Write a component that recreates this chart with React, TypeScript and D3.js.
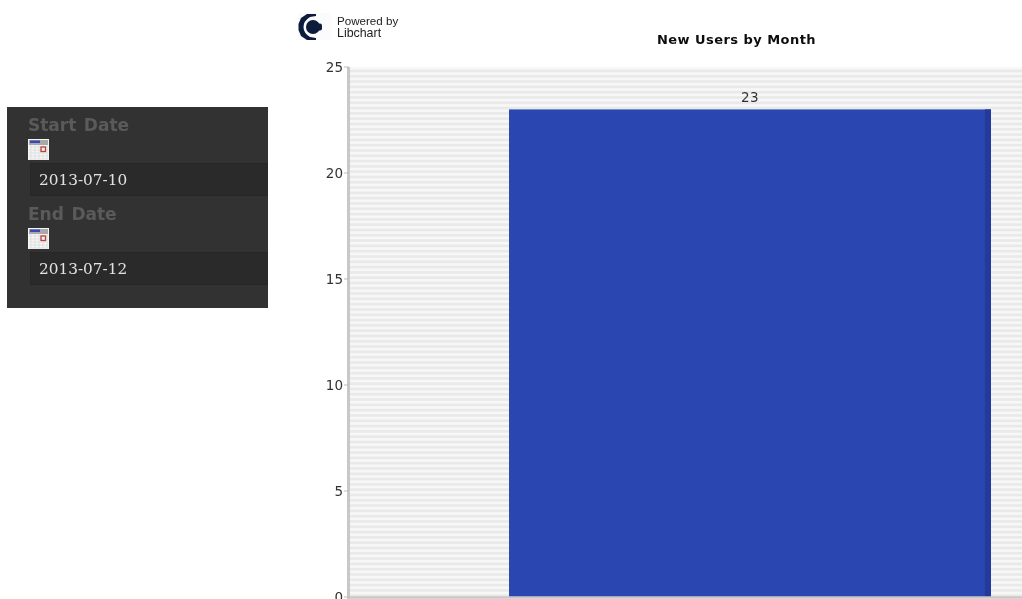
import React from "react";
import * as d3 from "d3";

const chartTitle = "New Users by Month";
const categories = ["2013-07"];
const newUsers = [23];
const yTicks = [0, 5, 10, 15, 20, 25];
const stripeValues = d3.range(0, 25, 0.25);
const dateFields = [
  { label: "Start Date", value: "2013-07-10" },
  { label: "End Date", value: "2013-07-12" },
];

const y = d3.scaleLinear().domain([0, 25]).range([597, 67]);
const x = d3.scaleBand().domain(categories).range([349, 1151]).paddingInner(0).paddingOuter(0.332);

function CalendarIcon({ px, py }: { px: number; py: number }) {
  const cells = d3.range(0, 5);
  return (
    <g transform={`translate(${px},${py})`}>
      <rect x={0} y={0} width={21} height={21} fill="#f6f6f6" />
      <rect x={1} y={1} width={19} height={5} fill="#a9a9a9" />
      <rect x={2} y={1.5} width={10} height={2.5} fill="#3b48b5" />
      {cells.map((i) => (
        <line key={"v" + i} x1={3 + i * 4} x2={3 + i * 4} y1={6} y2={20} stroke="#dcdcdc" strokeWidth={0.8} />
      ))}
      {cells.map((i) => (
        <line key={"h" + i} x1={1} x2={20} y1={8 + i * 3} y2={8 + i * 3} stroke="#dcdcdc" strokeWidth={0.8} />
      ))}
      <rect x={13} y={8} width={4.5} height={4.5} fill="#eee" stroke="#b8403f" strokeWidth={1.3} />
    </g>
  );
}

export default function App() {
  const barX = x(categories[0])!;
  const barW = x.bandwidth();
  return (
    <svg width={1022} height={599} style={{ position: "absolute", left: 0, top: 0, background: "#fff" }} fontFamily="'DejaVu Sans', sans-serif">
      <defs>
        <filter id="soft" x="-5%" y="-5%" width="110%" height="110%">
          <feGaussianBlur stdDeviation="0.35" />
        </filter>
        <clipPath id="panel"><rect x={7} y={107} width={261} height={201} /></clipPath>
      </defs>

      {/* date panel */}
      <g filter="url(#soft)">
        <g clipPath="url(#panel)">
          <rect x={7} y={107} width={261} height={201} fill="#333333" />
          {dateFields.map((f, i) => {
            const top = 107 + i * 89;
            return (
              <g key={f.label}>
                <text x={28} y={top + 23.5} fontSize={17} fontWeight={700} fill="#5a5a5a" wordSpacing={1.6}>
                  {f.label}
                </text>
                <CalendarIcon px={28} py={top + 32} />
                <rect x={30} y={top + 56} width={250} height={33} fill="#2a2a2a" />
                <rect x={30.5} y={top + 56.5} width={250} height={32} fill="none" stroke="#262626" />
                <text x={39} y={top + 78} fontSize={15.3} fontFamily="'DejaVu Serif', serif" fill="#e2e2e2">
                  {f.value}
                </text>
              </g>
            );
          })}
        </g>
      </g>

      {/* logo */}
      <g filter="url(#soft)">
        <rect x={298} y={13} width={33} height={27} fill="#fbfbfd" />
        <path d="M 316 14 L 307 14 L 301 18 L 298.5 24 L 298.5 30 L 301 36 L 307 40 L 316 40 L 316 38 L 310 37 Q 303.5 33 303.5 27 Q 303.5 21 310 17 L 316 16 Z" fill="#0e1a3c" />
        <circle cx={313} cy={27} r={7} fill="#0e1a3c" />
        <rect x={317} y={23.5} width={5} height={7} rx={2} fill="#0e1a3c" />
        <text x={337} y={25} fontSize={11.6} fontFamily="'Liberation Sans', sans-serif" fill="#222">Powered by</text>
        <text x={337} y={37} fontSize={12.4} fontFamily="'Liberation Sans', sans-serif" fill="#222">Libchart</text>
      </g>

      {/* plot */}
      <g filter="url(#soft)">
        <clipPath id="plot"><rect x={349} y={66} width={673} height={533} /></clipPath>
        <g clipPath="url(#plot)">
          <rect x={349} y={y(25)} width={673} height={y(0) - y(25)} fill="#f7f7f7" />
          {stripeValues.map((v) => (
            <rect key={v} x={349} y={y(v + 0.125)} width={673} height={y(v) - y(v + 0.125)} fill="#e9e9e9" />
          ))}
          {newUsers.map((v) => (
            <g key={v}>
              <rect x={barX} y={y(v)} width={barW} height={y(0) - y(v)} fill="#2b46b1" />
              <rect x={barX + barW - 6} y={y(v)} width={6} height={y(0) - y(v)} fill="#223a9a" />
              <text x={barX + barW / 2} y={y(v) - 7} textAnchor="middle" fontSize={13.5} fill="#333" letterSpacing={0.5}>{v}</text>
            </g>
          ))}
        </g>
        <line x1={348.5} x2={348.5} y1={y(25)} y2={599} stroke="#c8c8c8" strokeWidth={3} />
        <line x1={347} x2={1022} y1={y(0) + 0.5} y2={y(0) + 0.5} stroke="#c8c8c8" strokeWidth={2.5} />
        {yTicks.map((t) => (
          <g key={t}>
            <line x1={344} x2={349} y1={y(t)} y2={y(t)} stroke="#bdbdbd" />
            <text x={343.5} y={y(t) + 5} textAnchor="end" fontSize={13.5} fill="#333" letterSpacing={0.3}>{t}</text>
          </g>
        ))}
        <text x={736.5} y={43.5} textAnchor="middle" fontSize={13} fontWeight={700} fill="#111" letterSpacing={0.45}>{chartTitle}</text>
      </g>
    </svg>
  );
}
